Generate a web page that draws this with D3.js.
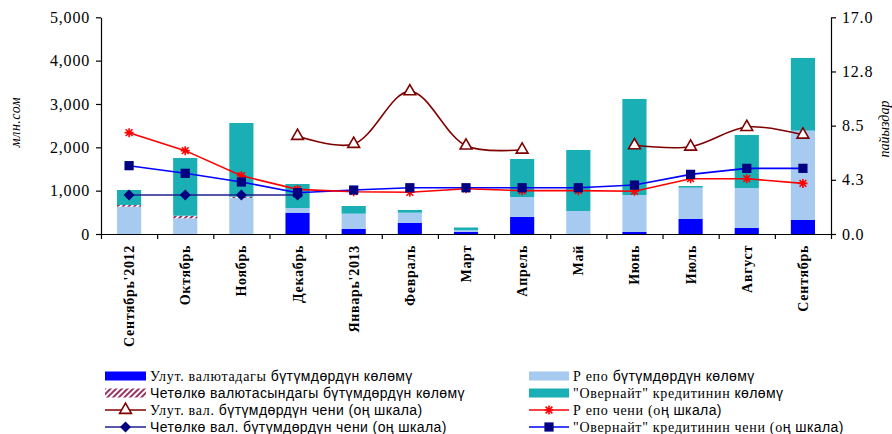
<!DOCTYPE html>
<html><head><meta charset="utf-8">
<script src="https://cdn.jsdelivr.net/npm/d3@7"></script>
<style>body{margin:0;background:#fff}svg{display:block}</style>
</head><body><svg id="c" width="892" height="434"></svg>
<script>
const categories = ["Сентябрь'2012","Октябрь","Ноябрь","Декабрь","Январь'2013","Февраль","Март","Апрель","Май","Июнь","Июль","Август","Сентябрь"];
const natVolume       = [0, 0, 0, 492, 115, 254, 50, 392, 0, 46, 346, 138, 323];
const repoVolume      = [630, 362, 831, 108, 354, 238, 40, 462, 531, 854, 723, 924, 2062];
const fxVolume        = [40, 60, 30, 0, 0, 0, 0, 0, 0, 0, 0, 0, 0];
const overnightVolume = [345, 1332, 1700, 554, 177, 62, 60, 877, 1408, 2216, 39, 1223, 1677];
const natRate       = [null, null, null, 7.69, 7.06, 11.19, 6.93, 6.61, null, 6.96, 6.85, 8.39, 7.79];
const repoRate      = [7.95, 6.54, 4.57, 3.50, 3.32, 3.27, 3.55, 3.40, 3.40, 3.35, 4.34, 4.34, 3.97];
const fxRate        = [3.06, 3.06, 3.06, 3.06, null, null, null, null, null, null, null, null, null];
const overnightRate = [5.36, 4.76, 4.08, 3.24, 3.45, 3.63, 3.63, 3.63, 3.63, 3.84, 4.68, 5.15, 5.15];
const leftTicks = [0, 1000, 2000, 3000, 4000, 5000];
const rightTicks = [0, 4.25, 8.5, 12.75, 17];
const rightTickLabels = ["0.0", "4.3", "8.5", "12.8", "17.0"];
const leftTitle = "млн.сом";
const rightTitle = "пайыздар";
const legendLeft = [
  {key:"nat", serif:"Улут. валютадагы ", sans:"бүтүмдөрдүн көлөмү"},
  {key:"fx", serif:"", sans:"Четөлкө валютасындагы бүтүмдөрдүн көлөмү"},
  {key:"natRate", serif:"Улут. вал. ", sans:"бүтүмдөрдүн чени (оң шкала)"},
  {key:"fxRate", serif:"", sans:"Четөлкө вал. бүтүмдөрдүн чени (оң шкала)"}
];
const legendRight = [
  {key:"repo", serif:"Р епо ", sans:"бүтүмдөрдүн көлөмү"},
  {key:"overnight", serif:"\"Овернайт\" кредитинин ", sans:"көлөмү"},
  {key:"repoRate", serif:"Р епо чени (о", sans:"ң шкала)"},
  {key:"overnightRate", serif:"\"Овернайт\" кредитинин чени (о", sans:"ң шкала)"}
];

const C = {
  nat:"#0000FF", repo:"#A6CAF0", fx:"url(#hatch)", overnight:"#1AAEB5",
  natRate:"#800000", repoRate:"#FF0000", fxRate:"#1F1F8F", overnightRate:"#0000FF", marker:"#000080"
};
const SERIF = "'Liberation Serif','Times New Roman',serif";
const SANS = "'Liberation Sans',Arial,sans-serif";

const svg = d3.select("#c");
const defs = svg.append("defs");
const pat = defs.append("pattern").attr("id","hatch").attr("patternUnits","userSpaceOnUse")
  .attr("width",4).attr("height",4).attr("patternTransform","rotate(45)");
pat.append("rect").attr("width",4).attr("height",4).attr("fill","#fff");
pat.append("rect").attr("width",2).attr("height",4).attr("fill","#993366");

const L = 101, R = 831, T = 17.3, B = 234;
const x = d3.scaleBand().domain(categories).range([L, R]).padding(0);
const xi = d3.scaleLinear().domain([0, categories.length]).range([L, R]);
const yL = d3.scaleLinear().domain([0, 5000]).range([B, T]);
const yR = d3.scaleLinear().domain([0, 17]).range([B, T]);

// bars
const rows = categories.map((c,i)=>({c, nat:natVolume[i], repo:repoVolume[i], fx:fxVolume[i], overnight:overnightVolume[i]}));
const stack = d3.stack().keys(["nat","repo","fx","overnight"])(rows);
const bw = x.bandwidth()*0.43;
svg.append("g").selectAll("g").data(stack).join("g")
  .attr("fill", d=>C[d.key])
  .selectAll("rect").data(d=>d).join("rect")
  .attr("x", d=>x(d.data.c)+(x.bandwidth()-bw)/2)
  .attr("width", bw)
  .attr("y", d=>yL(d[1]))
  .attr("height", d=>Math.max(0, yL(d[0])-yL(d[1])));

// axes
const gl = svg.append("g").attr("transform",`translate(${L},0)`)
  .call(d3.axisLeft(yL).tickValues(leftTicks).tickFormat(d3.format(",")).tickSize(5).tickSizeOuter(0).tickPadding(6));
const gr = svg.append("g").attr("transform",`translate(${R},0)`)
  .call(d3.axisRight(yR).tickValues(rightTicks).tickFormat((d,i)=>rightTickLabels[i]).tickSize(5).tickSizeOuter(0).tickPadding(6));
const gb = svg.append("g").attr("transform",`translate(0,${B})`)
  .call(d3.axisBottom(xi).tickValues(d3.range(0, categories.length+1)).tickFormat("").tickSize(5).tickSizeOuter(0));
[gl,gr,gb].forEach(g=>{
  g.selectAll("path,line").attr("stroke","#000").attr("stroke-width",1.2);
  g.selectAll("text").attr("font-family",SERIF).attr("font-size",16).attr("fill","#000").style("letter-spacing","0.8px");
});

// x labels
svg.append("g").selectAll("text").data(categories).join("text")
  .attr("transform", d=>`translate(${x(d)+x.bandwidth()/2+5},${B+11}) rotate(-90)`)
  .attr("text-anchor","end")
  .attr("font-family",SERIF).attr("font-weight","bold").attr("font-size",14)
  .style("letter-spacing","0.7px")
  .text(d=>d);

// axis titles
svg.append("text").attr("transform",`translate(20,122) rotate(-90)`).attr("text-anchor","middle")
  .attr("font-family",SERIF).attr("font-style","italic").attr("font-size",14).style("letter-spacing","0.5px").text(leftTitle);
svg.append("text").attr("transform",`translate(889,129) rotate(-90)`).attr("text-anchor","middle")
  .attr("font-family",SERIF).attr("font-style","italic").attr("font-size",14).text(rightTitle);

// lines
const cx = i => x(categories[i]) + x.bandwidth()/2;
function drawLine(vals, color, curve){
  const pts = vals.map((v,i)=>({i,v}));
  svg.append("path").datum(pts)
    .attr("fill","none").attr("stroke",color).attr("stroke-width",1.6)
    .attr("d", d3.line().defined(d=>d.v!=null).x(d=>cx(d.i)).y(d=>yR(d.v)).curve(curve||d3.curveLinear));
  return pts.filter(d=>d.v!=null);
}
const asterisk = r => `M${-r},0L${r},0M0,${-r}L0,${r}M${-r*0.75},${-r*0.75}L${r*0.75},${r*0.75}M${-r*0.75},${r*0.75}L${r*0.75},${-r*0.75}`;
const diamond = r => `M0,${-r}L${r},0L0,${r}L${-r},0Z`;

const pNat = drawLine(natRate, C.natRate, d3.curveCatmullRom.alpha(0.5));
const pFx = drawLine(fxRate, C.fxRate);
const pOv = drawLine(overnightRate, C.overnightRate);
const pRepo = drawLine(repoRate, C.repoRate);

svg.append("g").selectAll("path").data(pFx).join("path")
  .attr("transform", d=>`translate(${cx(d.i)},${yR(d.v)})`)
  .attr("d", diamond(5.5)).attr("fill", C.marker);
svg.append("g").selectAll("path").data(pRepo).join("path")
  .attr("transform", d=>`translate(${cx(d.i)},${yR(d.v)})`)
  .attr("d", asterisk(4.5)).attr("stroke", C.repoRate).attr("stroke-width",1.6).attr("fill","none");
svg.append("g").selectAll("path").data(pOv).join("path")
  .attr("transform", d=>`translate(${cx(d.i)},${yR(d.v)})`)
  .attr("d", d3.symbol(d3.symbolSquare, 85)).attr("fill", C.marker);
svg.append("g").selectAll("path").data(pNat).join("path")
  .attr("transform", d=>`translate(${cx(d.i)},${yR(d.v)})`)
  .attr("d", d3.symbol(d3.symbolTriangle, 60)).attr("fill","#fff").attr("stroke",C.natRate).attr("stroke-width",1.6);

// legend
const rowY = [376, 393, 410, 427];
function legendCol(items, sx, sw, tx){
  items.forEach((it,k)=>{
    const y = rowY[k];
    const g = svg.append("g");
    if (["nat","repo","fx","overnight"].includes(it.key)){
      g.append("rect").attr("x",sx).attr("y",y-4.5).attr("width",sw).attr("height",9).attr("fill",C[it.key]);
    } else {
      g.append("line").attr("x1",sx).attr("x2",sx+sw).attr("y1",y).attr("y2",y).attr("stroke",C[it.key]).attr("stroke-width",1.6);
      const m = g.append("path").attr("transform",`translate(${sx+sw/2},${y})`);
      if (it.key==="natRate") m.attr("d",d3.symbol(d3.symbolTriangle,60)).attr("fill","#fff").attr("stroke",C.natRate).attr("stroke-width",1.6);
      if (it.key==="fxRate") m.attr("d",diamond(5.5)).attr("fill",C.marker);
      if (it.key==="repoRate") m.attr("d",asterisk(4.5)).attr("stroke",C.repoRate).attr("stroke-width",1.6).attr("fill","none");
      if (it.key==="overnightRate") m.attr("d",d3.symbol(d3.symbolSquare,85)).attr("fill",C.marker);
    }
    const t = g.append("text").attr("x",tx).attr("y",y+5).attr("font-size",14);
    if (it.serif) t.append("tspan").attr("font-family",SERIF).style("letter-spacing","0.7px").text(it.serif);
    t.append("tspan").attr("font-family",SANS).style("letter-spacing","0.4px").text(it.sans);
  });
}
legendCol(legendLeft, 105, 41, 150);
legendCol(legendRight, 529, 40, 573);
</script></body></html>
